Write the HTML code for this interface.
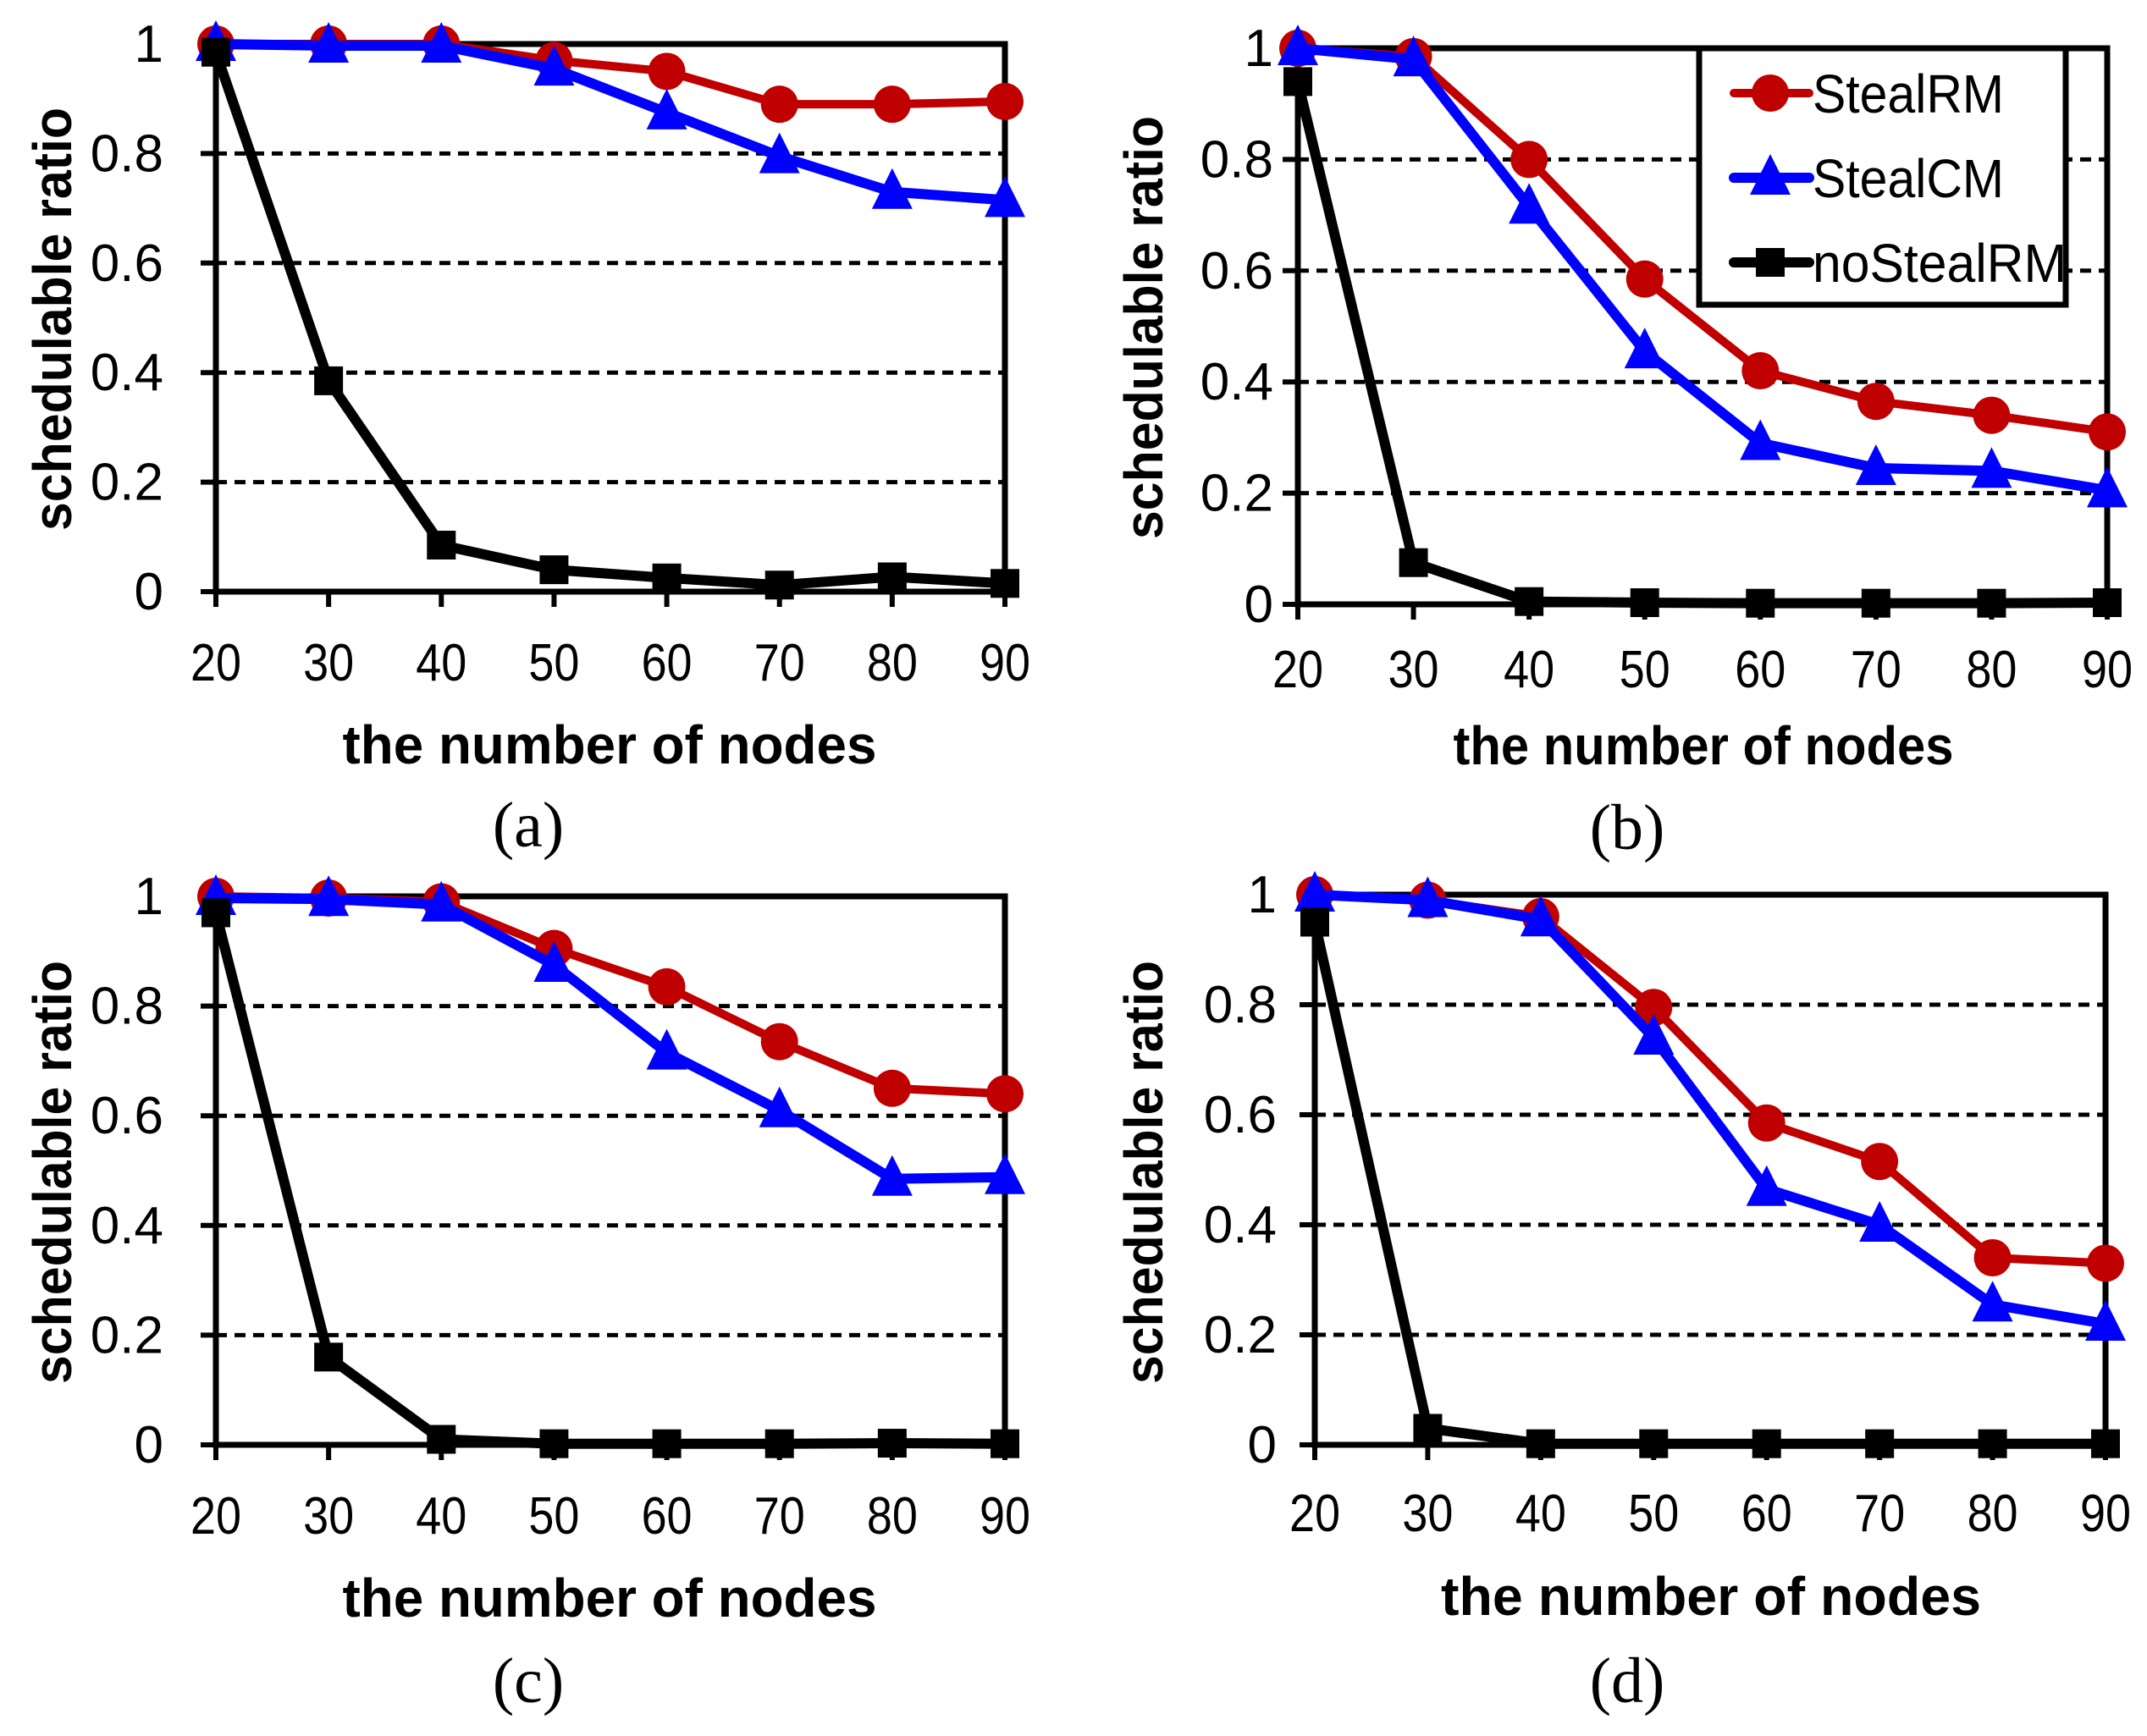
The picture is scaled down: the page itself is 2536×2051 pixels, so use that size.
<!DOCTYPE html>
<html><head><meta charset="utf-8">
<style>html,body{margin:0;padding:0;background:#fff;}svg{display:block;}</style>
</head><body>
<svg id="fig" xmlns="http://www.w3.org/2000/svg" width="2536" height="2051" viewBox="0 0 2536 2051"></svg>
<script>
const categories = [20, 30, 40, 50, 60, 70, 80, 90];
const yTicks = [0, 0.2, 0.4, 0.6, 0.8, 1];
const yTickLabels = ["0", "0.2", "0.4", "0.6", "0.8", "1"];
const seriesNames = ["StealRM", "StealCM", "noStealRM"];
const aRM = [1, 1, 1, 0.97, 0.95, 0.89, 0.89, 0.895];
const aCM = [1, 0.997, 0.997, 0.955, 0.875, 0.795, 0.73, 0.715];
const aNo = [0.985, 0.385, 0.085, 0.04, 0.025, 0.012, 0.027, 0.015];
const bRM = [1, 0.985, 0.80, 0.585, 0.42, 0.365, 0.34, 0.31];
const bCM = [1, 0.98, 0.715, 0.455, 0.29, 0.245, 0.24, 0.205];
const bNo = [0.94, 0.075, 0.005, 0.003, 0.002, 0.002, 0.002, 0.003];
const cRM = [1, 0.997, 0.99, 0.905, 0.835, 0.735, 0.65, 0.64];
const cCM = [0.997, 0.995, 0.985, 0.875, 0.715, 0.61, 0.485, 0.488];
const cNo = [0.97, 0.16, 0.01, 0.002, 0.002, 0.002, 0.003, 0.002];
const dRM = [1, 0.99, 0.96, 0.795, 0.585, 0.515, 0.34, 0.33];
const dCM = [1, 0.99, 0.955, 0.74, 0.465, 0.4, 0.255, 0.22];
const dNo = [0.95, 0.03, 0.002, 0.002, 0.002, 0.002, 0.002, 0.002];

const NS = "http://www.w3.org/2000/svg";
const svg = document.getElementById("fig");
function mk(tag, attrs, parent) {
  const e = document.createElementNS(NS, tag);
  for (const k in attrs) e.setAttribute(k, attrs[k]);
  (parent || svg).appendChild(e);
  return e;
}
const COLORS = ["#c00000", "#0000ff", "#000000"];
const WIDTHS = [10, 12, 12];

function marker(g, kind, x, y) {
  let m;
  if (kind === 0) m = mk("circle", {cx: x, cy: y, r: 22, fill: COLORS[0]}, g);
  else if (kind === 1) m = mk("polygon", {points: `${x},${y-28} ${x-24},${y+20} ${x+24},${y+20}`, fill: COLORS[1]}, g);
  else m = mk("rect", {x: x-17, y: y-17, width: 34, height: 34, fill: COLORS[2]}, g);
  return m;
}

const panels = [
  {id: "a", x0: 255, x1: 1187, y1: 52, y0: 699, data: [aRM, aCM, aNo], tickBase: 804, xtx: 720, xty: 902, xtl: 631, ytx: 84, yty: 377, ylab: 193, cap: [624, 1000]},
  {id: "b", x0: 1533, x1: 2489, y1: 57, y0: 714, data: [bRM, bCM, bNo], tickBase: 812, xtx: 2012, xty: 903, xtl: 591, ytx: 1373, yty: 387, ylab: 1504, cap: [1922, 1003]},
  {id: "c", x0: 255, x1: 1187, y1: 1059, y0: 1707, data: [cRM, cCM, cNo], tickBase: 1812, xtx: 720, xty: 1910, xtl: 631, ytx: 84, yty: 1385, ylab: 193, cap: [624, 2011]},
  {id: "d", x0: 1553, x1: 2487, y1: 1057, y0: 1707, data: [dRM, dCM, dNo], tickBase: 1809, xtx: 2021, xty: 1908, xtl: 638, ytx: 1373, yty: 1385, ylab: 1508, cap: [1922, 2011]}
];

panels.forEach(p => {
  const g = mk("g", {});
  
  
  const xs = v => p.x0 + (categories.indexOf(v)) * (p.x1 - p.x0) / (categories.length - 1);
  const ys = v => p.y0 - v * (p.y0 - p.y1);
  yTicks.forEach((t, i) => {
    if (t > 0 && t < 1) {
      const gl = mk("line", {x1: p.x0, x2: p.x1, y1: ys(t), y2: ys(t), stroke: "#000", "stroke-width": 5, "stroke-dasharray": "13 9"}, g);
      
      
    }
    const tk = mk("line", {x1: p.x0 - 18, x2: p.x0, y1: ys(t), y2: ys(t), stroke: "#000", "stroke-width": 6}, g);
    
    
    const tl = mk("text", {x: p.ylab, y: ys(t) + 21, "text-anchor": "end", "font-family": "Liberation Sans, sans-serif", "font-size": 62}, g);
    tl.textContent = yTickLabels[i];
    
    
  });
  const fr = mk("rect", {x: p.x0, y: p.y1, width: p.x1 - p.x0, height: p.y0 - p.y1, fill: "none", stroke: "#000", "stroke-width": 7}, g);
  
  
  categories.forEach(c => {
    const tk = mk("line", {x1: xs(c), x2: xs(c), y1: p.y0, y2: p.y0 + 18, stroke: "#000", "stroke-width": 6}, g);
    
    
    const tl = mk("text", {x: xs(c), y: p.tickBase, "text-anchor": "middle", "font-family": "Liberation Sans, sans-serif", "font-size": 62, textLength: 60, lengthAdjust: "spacingAndGlyphs"}, g);
    tl.textContent = String(c);
    
    
  });
  p.data.forEach((vals, si) => {
    const sg = mk("g", {}, g);
    
    
    const pts = vals.map((v, i) => xs(categories[i]) + "," + ys(v)).join(" ");
    const ln = mk("polyline", {points: pts, fill: "none", stroke: COLORS[si], "stroke-width": WIDTHS[si], "stroke-linejoin": "round"}, sg);
    
    
    vals.forEach((v, i) => {
      const m = marker(sg, si, xs(categories[i]), ys(v));
      
      
    });
  });
  const xt = mk("text", {x: p.xtx, y: p.xty, "text-anchor": "middle", "font-family": "Liberation Sans, sans-serif", "font-weight": "bold", "font-size": 64, textLength: p.xtl, lengthAdjust: "spacingAndGlyphs"}, g);
  xt.textContent = "the number of nodes";
  
  
  const yt = mk("text", {x: 0, y: 0, "text-anchor": "middle", "font-family": "Liberation Sans, sans-serif", "font-weight": "bold", "font-size": 64, textLength: 500, lengthAdjust: "spacingAndGlyphs", transform: `translate(${p.ytx},${p.yty}) rotate(-90)`}, g);
  yt.textContent = "schedulable ratio";
  
  
  const cp = mk("text", {x: p.cap[0], y: p.cap[1], "text-anchor": "middle", "font-family": "Liberation Serif, serif", "font-size": 76}, g);
  cp.textContent = "(" + p.id + ")";
  
  
});

const lg = mk("g", {});


const lb = mk("rect", {x: 2007, y: 57, width: 433, height: 303, fill: "#fff", stroke: "#000", "stroke-width": 7}, lg);


const legY = [110, 210, 310];
const legW = [226, 226, 300];
seriesNames.forEach((n, i) => {
  const e = mk("g", {}, lg);
  
  
  mk("line", {x1: 2048, x2: 2137, y1: legY[i], y2: legY[i], stroke: COLORS[i], "stroke-width": WIDTHS[i], "stroke-linecap": "round"}, e);
  marker(e, i, 2091, legY[i]);
  const t = mk("text", {x: 2141, y: legY[i] + 23, "font-family": "Liberation Sans, sans-serif", "font-size": 64, textLength: legW[i], lengthAdjust: "spacingAndGlyphs"}, e);
  t.textContent = n;
  
  
});
</script>
</body></html>
